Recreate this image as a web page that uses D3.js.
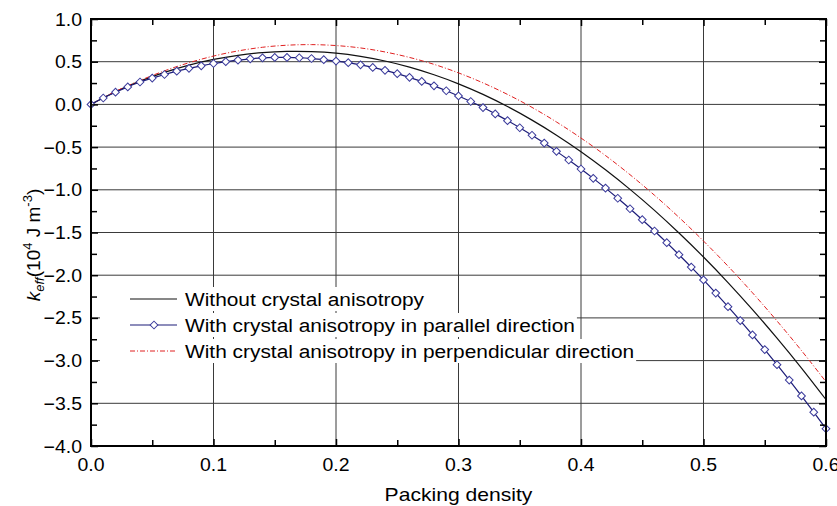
<!DOCTYPE html>
<html>
<head>
<meta charset="utf-8">
<script src="https://cdn.jsdelivr.net/npm/d3@7"></script>
<style>
  body { margin: 0; background: #fff; }
  text { font-family: "Liberation Sans", Arial, sans-serif; }
</style>
</head>
<body>
<svg id="chart" width="837" height="506"></svg>
<script>
// packing density sampled every 0.01 (markers) and every 0.02 (plain curves)
var blueX = [0,0.01,0.02,0.03,0.04,0.05,0.06,0.07,0.08,0.09,0.10,0.11,0.12,0.13,0.14,0.15,0.16,0.17,0.18,0.19,0.20,
  0.21,0.22,0.23,0.24,0.25,0.26,0.27,0.28,0.29,0.30,0.31,0.32,0.33,0.34,0.35,0.36,0.37,0.38,0.39,0.40,
  0.41,0.42,0.43,0.44,0.45,0.46,0.47,0.48,0.49,0.50,0.51,0.52,0.53,0.54,0.55,0.56,0.57,0.58,0.59,0.60]
var blueY = [0,0.075,0.143,0.205,0.262,0.308,0.350,0.389,0.422,0.452,0.479,0.500,0.519,0.534,0.545,0.550,0.550,0.546,0.537,0.524,0.507,
  0.489,0.463,0.433,0.399,0.360,0.317,0.269,0.217,0.160,0.099,0.034,-0.037,-0.111,-0.190,-0.273,-0.361,-0.453,-0.550,-0.651,-0.756,
  -0.866,-0.980,-1.099,-1.222,-1.350,-1.482,-1.619,-1.760,-1.905,-2.055,-2.209,-2.368,-2.531,-2.699,-2.871,-3.048,-3.228,-3.414,-3.604,-3.798]

var lineX = [0,0.02,0.04,0.06,0.08,0.10,0.12,0.14,0.16,0.18,0.20,0.22,0.24,0.26,0.28,0.30,
  0.32,0.34,0.36,0.38,0.40,0.42,0.44,0.46,0.48,0.50,0.52,0.54,0.56,0.58,0.60]
var blackY = [0,0.148,0.272,0.375,0.460,0.527,0.575,0.606,0.620,0.618,0.600,0.562,0.508,0.436,0.347,0.241,
  0.117,-0.025,-0.184,-0.360,-0.554,-0.766,-0.995,-1.241,-1.506,-1.787,-2.086,-2.403,-2.737,-3.088,-3.457]
var redY = [0,0.152,0.280,0.393,0.488,0.566,0.626,0.669,0.693,0.700,0.689,0.661,0.614,0.550,0.469,0.369,
  0.252,0.117,-0.035,-0.206,-0.394,-0.599,-0.823,-1.064,-1.323,-1.600,-1.894,-2.206,-2.536,-2.883,-3.248]

var xTicks = [0,0.1,0.2,0.3,0.4,0.5,0.6]
var xMinor = [0.05,0.15,0.25,0.35,0.45,0.55]
var yTicks = [1.0,0.5,0,-0.5,-1.0,-1.5,-2.0,-2.5,-3.0,-3.5,-4.0]
var yMinor = [0.75,0.25,-0.25,-0.75,-1.25,-1.75,-2.25,-2.75,-3.25,-3.75]

var legendLabels = ["Without crystal anisotropy",
  "With crystal anisotropy in parallel direction",
  "With crystal anisotropy in perpendicular direction"]

var pLeft = 91, pRight = 826, pTop = 19, pBottom = 446
var widen = 1.16   // the picture's text is drawn a bit wide

var svg = d3.select("#chart")
svg.append("rect").attr("width", 837).attr("height", 506).attr("fill", "white")

var x = d3.scaleLinear().domain([0, 0.6]).range([pLeft, pRight])
var y = d3.scaleLinear().domain([-4, 1]).range([pBottom, pTop])

function stretch(sel, k){
  sel.each(function(){
    var w = this.getComputedTextLength()
    d3.select(this).attr("textLength", w * k).attr("lengthAdjust", "spacingAndGlyphs")
  })
}

//grid lines
svg.append("g").selectAll("line")
  .data(xTicks.slice(1, -1)).enter().append("line")
  .attr("x1", d => x(d)).attr("x2", d => x(d))
  .attr("y1", pTop).attr("y2", pBottom)
  .attr("stroke", "#3a3a3a").attr("stroke-width", 1)
svg.append("g").selectAll("line")
  .data(yTicks.slice(1, -1)).enter().append("line")
  .attr("x1", pLeft).attr("x2", pRight)
  .attr("y1", d => y(d)).attr("y2", d => y(d))
  .attr("stroke", "#3a3a3a").attr("stroke-width", 1)

//curves
var black = lineX.map((d, i) => [d, blackY[i]])
var red = lineX.map((d, i) => [d, redY[i]])
var blue = blueX.map((d, i) => [d, blueY[i]])

var line = d3.line().x(d => x(d[0])).y(d => y(d[1])).curve(d3.curveNatural)

svg.append("path").datum(black).attr("d", line)
  .attr("fill", "none").attr("stroke", "#111").attr("stroke-width", 1.2)
svg.append("path").datum(red).attr("d", line)
  .attr("fill", "none").attr("stroke", "#e02020").attr("stroke-width", 1)
  .attr("stroke-dasharray", "5,2,1,2")
svg.append("path").datum(blue).attr("d", line)
  .attr("fill", "none").attr("stroke", "#1c1c78").attr("stroke-width", 1.2)

var diamond = d3.symbol().type(d3.symbolSquare).size(30)
svg.append("g").selectAll("path")
  .data(blue).enter().append("path")
  .attr("d", diamond)
  .attr("transform", d => "translate(" + x(d[0]) + "," + y(d[1]) + ") rotate(45)")
  .attr("fill", "white").attr("stroke", "#3b3b9c").attr("stroke-width", 1)

//legend, each row has its own white background
var legendY = [299, 325, 351]
var lg = svg.append("g")
var bgs = lg.append("g")

lg.append("line").attr("x1", 130).attr("x2", 177).attr("y1", legendY[0]).attr("y2", legendY[0])
  .attr("stroke", "#111").attr("stroke-width", 1.2)
lg.append("line").attr("x1", 130).attr("x2", 177).attr("y1", legendY[1]).attr("y2", legendY[1])
  .attr("stroke", "#1c1c78").attr("stroke-width", 1.2)
lg.append("path").attr("d", diamond)
  .attr("transform", "translate(154," + legendY[1] + ") rotate(45)")
  .attr("fill", "white").attr("stroke", "#3b3b9c").attr("stroke-width", 1)
lg.append("line").attr("x1", 130).attr("x2", 177).attr("y1", legendY[2]).attr("y2", legendY[2])
  .attr("stroke", "#e02020").attr("stroke-width", 1).attr("stroke-dasharray", "5,2,1,2")

var lt = lg.selectAll("text").data(legendLabels).enter().append("text")
  .attr("x", 185).attr("y", (d, i) => legendY[i] + 6.5)
  .attr("font-size", 18)
  .text(d => d)
stretch(lt, widen)
lt.each(function(d, i){
  var w = +this.getAttribute("textLength")
  bgs.append("rect").attr("x", 100).attr("y", legendY[i] - 12)
    .attr("width", 185 + w + 2 - 100).attr("height", 24)
    .attr("fill", "white")
})

//ticks pointing inward on all four sides
function addAxis(axis, tx, ty){
  var g = svg.append("g").attr("transform", "translate(" + tx + "," + ty + ")").call(axis)
  g.select(".domain").remove()
  g.selectAll("line").attr("stroke", "black").attr("stroke-width", 1.5)
  return g
}
addAxis(d3.axisBottom(x).tickValues(xTicks).tickSize(-7).tickFormat(""), 0, pBottom)
addAxis(d3.axisBottom(x).tickValues(xMinor).tickSize(-6).tickFormat(""), 0, pBottom)
addAxis(d3.axisTop(x).tickValues(xTicks).tickSize(-7).tickFormat(""), 0, pTop)
addAxis(d3.axisTop(x).tickValues(xMinor).tickSize(-6).tickFormat(""), 0, pTop)
addAxis(d3.axisLeft(y).tickValues(yTicks).tickSize(-7).tickFormat(""), pLeft, 0)
addAxis(d3.axisLeft(y).tickValues(yMinor).tickSize(-6).tickFormat(""), pLeft, 0)
addAxis(d3.axisRight(y).tickValues(yTicks).tickSize(-7).tickFormat(""), pRight, 0)
addAxis(d3.axisRight(y).tickValues(yMinor).tickSize(-6).tickFormat(""), pRight, 0)

//tick labels
var xl = svg.append("g").selectAll("text").data(xTicks).enter().append("text")
  .attr("x", d => x(d)).attr("y", 471)
  .attr("text-anchor", "middle").attr("font-size", 18)
  .text(d3.format(".1f"))
stretch(xl, 1.08)
var yl = svg.append("g").selectAll("text").data(yTicks).enter().append("text")
  .attr("x", 82).attr("y", d => y(d) + 6.5)
  .attr("text-anchor", "end").attr("font-size", 18)
  .text(d3.format(".1f"))
stretch(yl, 1.08)

//frame
svg.append("rect").attr("x", pLeft).attr("y", pTop)
  .attr("width", pRight - pLeft).attr("height", pBottom - pTop)
  .attr("fill", "none").attr("stroke", "black").attr("stroke-width", 2)

//axis titles
var xt = svg.append("text").attr("x", (pLeft + pRight) / 2).attr("y", 501)
  .attr("text-anchor", "middle").attr("font-size", 18.5)
  .text("Packing density")
stretch(xt, 1.14)

var yt = svg.append("text").attr("transform", "translate(40,245) rotate(-90)")
  .attr("text-anchor", "middle").attr("font-size", 19)
yt.append("tspan").attr("font-style", "italic").text("k")
yt.append("tspan").attr("font-style", "italic").attr("font-size", 13).attr("dy", 4).text("eff")
yt.append("tspan").attr("dy", -4).text("(10")
yt.append("tspan").attr("font-size", 13).attr("dy", -8).text("4")
yt.append("tspan").attr("dy", 8).text(" J m")
yt.append("tspan").attr("font-size", 13).attr("dy", -8).text("-3")
yt.append("tspan").attr("dy", 8).text(")")
</script>
</body>
</html>
